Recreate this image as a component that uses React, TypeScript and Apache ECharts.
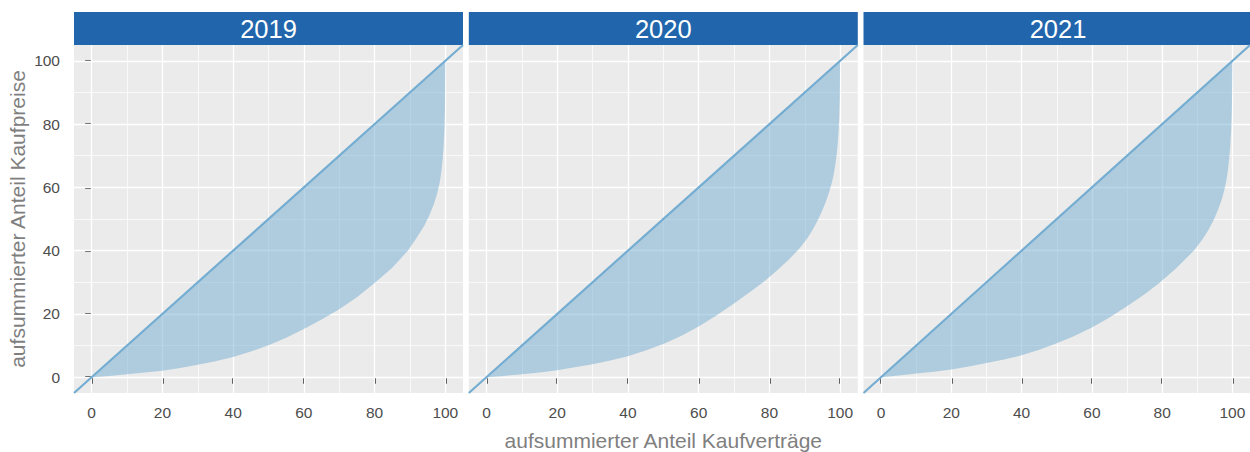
import React, { useEffect, useRef } from "react";
import * as echarts from "echarts";

// Facet titles
const years = ["2019", "2020", "2021"];

// Cumulative share of contracts (x, %) vs cumulative share of purchase prices (y, %)
const lorenz2019: [number, number][] = [
  [0, 0], [5, 0.4], [10, 0.95], [15, 1.45], [20, 2.05], [25, 2.9], [30, 3.9],
  [35, 5.0], [40, 6.4], [45, 8.1], [50, 10.1], [55, 12.5], [60, 15.2],
  [65, 18.2], [70, 21.5], [75, 25.3], [80, 29.8], [85, 34.6], [89.4, 40],
  [92, 44.2], [94, 47.8], [95.5, 51.2], [96.7, 54.5], [97.6, 57.7],
  [98.3, 60.9], [98.8, 64.3], [99.2, 68.3], [99.5, 72.8], [99.75, 78.3],
  [99.9, 85], [100, 100],
];
const lorenz2020: [number, number][] = [
  [0, 0], [5, 0.4], [10, 0.95], [15, 1.5], [20, 2.2], [25, 3.1], [30, 4.1],
  [35, 5.3], [40, 6.6], [45, 8.4], [50, 10.5], [55, 13.0], [60, 16.0],
  [65, 19.5], [70, 23.3], [75, 27.3], [78.4, 30.2], [82, 33.6], [85.5, 37.2],
  [88.3, 40.4], [90.5, 43.5], [92.2, 46.5], [93.5, 49.2], [94.8, 52.3],
  [95.9, 55.3], [96.8, 58.2], [97.5, 60.8], [98.1, 63.6], [98.6, 66.8],
  [99.0, 70.2], [99.3, 73.6], [99.55, 77.6], [99.75, 82], [99.9, 88], [100, 100],
];
const lorenz2021: [number, number][] = [
  [0, 0], [5, 0.5], [10, 1.15], [15, 1.75], [20, 2.45], [25, 3.4], [30, 4.5],
  [35, 5.6], [40, 6.9], [45, 8.7], [50, 10.7], [55, 13.0], [60, 15.7],
  [65, 18.9], [70, 22.4], [75, 26.2], [79, 29.6], [84, 34.4], [89, 40],
  [91.5, 43.6], [93.2, 46.6], [94.7, 49.8], [95.9, 52.9], [96.9, 56.0],
  [97.6, 58.8], [98.2, 61.8], [98.7, 65.3], [99.1, 69.3], [99.4, 73.3],
  [99.65, 78.3], [99.85, 85], [100, 100],
];
const lorenzByYear = [lorenz2019, lorenz2020, lorenz2021];

// Line of equal distribution (y = x), spanning the padded axis range
const equalityEnds = [-5, 105];

// Axis range and breaks
const axisRange = [-5, 105];
const majorBreaks = [0, 20, 40, 60, 80, 100];
const minorBreaks = [10, 30, 50, 70, 90];

const FONT = "'Liberation Sans', Arial, Helvetica, sans-serif";
const PANEL_LEFTS = [74, 468.8, 863.5];
const PANEL_W = 389;
const PANEL_TOP = 45;
const PANEL_H = 348;
const STRIP_TOP = 12;
const STRIP_H = 33;
const LINE_BLUE = "#74ADD1";

function gridLines() {
  const major = { color: "#FFFFFF", width: 1.3, type: "solid" as const };
  const minor = { color: "#FFFFFF", width: 0.7, type: "solid" as const };
  return [
    ...minorBreaks.map((v) => ({ xAxis: v, lineStyle: minor })),
    ...minorBreaks.map((v) => ({ yAxis: v, lineStyle: minor })),
    ...majorBreaks.map((v) => ({ xAxis: v, lineStyle: major })),
    ...majorBreaks.map((v) => ({ yAxis: v, lineStyle: major })),
  ];
}

export default function App() {
  const ref = useRef<HTMLDivElement>(null);

  useEffect(() => {
    if (!ref.current) return;
    const chart = echarts.init(ref.current, null, { renderer: "svg" });

    const grids = PANEL_LEFTS.map((left) => ({
      left,
      top: PANEL_TOP,
      width: PANEL_W,
      height: PANEL_H,
      show: true,
      backgroundColor: "#EBEBEB",
      borderWidth: 0,
      containLabel: false,
    }));

    const tickStyle = { color: "#333333", width: 1.8 };

    const xAxes = years.map((_, i) => ({
      type: "value",
      gridIndex: i,
      min: axisRange[0],
      max: axisRange[1],
      axisLine: { show: false },
      splitLine: { show: false },
      axisTick: {
        show: true,
        customValues: majorBreaks,
        length: 6.5,
        lineStyle: tickStyle,
      },
      axisLabel: {
        customValues: majorBreaks,
        color: "#4D4D4D",
        fontSize: 15.5,
        fontFamily: FONT,
        margin: 11,
      },
    }));

    const yAxes = years.map((_, i) => ({
      type: "value",
      gridIndex: i,
      min: axisRange[0],
      max: axisRange[1],
      axisLine: { show: false },
      splitLine: { show: false },
      axisTick: {
        show: i === 0,
        customValues: majorBreaks,
        length: 6.5,
        lineStyle: tickStyle,
      },
      axisLabel: {
        show: i === 0,
        customValues: majorBreaks,
        color: "#4D4D4D",
        fontSize: 15.5,
        fontFamily: FONT,
        margin: 14,
      },
    }));

    const series: any[] = [];
    lorenzByYear.forEach((pts, i) => {
      // shaded gap between the Lorenz curve and the line of equality
      series.push({
        type: "custom",
        xAxisIndex: i,
        yAxisIndex: i,
        z: 2,
        silent: true,
        data: pts,
        encode: { x: 0, y: 1 },
        renderItem: (params: any, api: any) => {
          if (params.dataIndex !== 0) return null;
          const lower = pts.map((p) => api.coord(p));
          const upper = [...pts].reverse().map((p) => api.coord([p[0], p[0]]));
          return {
            type: "polygon",
            shape: { points: lower.concat(upper) },
            style: { fill: "rgba(116,173,209,0.5)" },
          };
        },
      });
      // line of equality, with panel grid lines
      series.push({
        type: "line",
        xAxisIndex: i,
        yAxisIndex: i,
        z: 3,
        silent: true,
        symbol: "none",
        clip: true,
        data: equalityEnds.map((v) => [v, v]),
        lineStyle: { color: LINE_BLUE, width: 2.2 },
        markLine: {
          z: 1,
          silent: true,
          symbol: ["none", "none"],
          label: { show: false },
          emphasis: { disabled: true },
          animation: false,
          data: gridLines(),
        },
      });
    });

    const graphics: any[] = [];
    years.forEach((year, i) => {
      graphics.push({
        type: "rect",
        shape: { x: PANEL_LEFTS[i], y: STRIP_TOP, width: PANEL_W, height: STRIP_H },
        style: { fill: "#2166AC" },
        silent: true,
      });
      graphics.push({
        type: "text",
        x: PANEL_LEFTS[i] + PANEL_W / 2,
        y: STRIP_TOP + STRIP_H / 2 + 0.5,
        style: {
          text: year,
          fill: "#FFFFFF",
          fontSize: 25.5,
          fontFamily: FONT,
          align: "center",
          verticalAlign: "middle",
        },
        silent: true,
      });
    });
    graphics.push({
      type: "text",
      x: 17,
      y: PANEL_TOP + PANEL_H / 2,
      rotation: Math.PI / 2,
      style: {
        text: "aufsummierter Anteil Kaufpreise",
        fill: "#7F7F7F",
        fontSize: 21,
        fontFamily: FONT,
        align: "center",
        verticalAlign: "middle",
      },
      silent: true,
    });
    graphics.push({
      type: "text",
      x: PANEL_LEFTS[1] + PANEL_W / 2,
      y: 440,
      style: {
        text: "aufsummierter Anteil Kaufverträge",
        fill: "#7F7F7F",
        fontSize: 21,
        fontFamily: FONT,
        align: "center",
        verticalAlign: "middle",
      },
      silent: true,
    });

    chart.setOption({
      animation: false,
      backgroundColor: "#FFFFFF",
      textStyle: { fontFamily: FONT },
      grid: grids,
      xAxis: xAxes,
      yAxis: yAxes,
      series,
      graphic: graphics,
    });

    return () => chart.dispose();
  }, []);

  return (
    <div
      ref={ref}
      style={{ position: "absolute", left: 0, top: 0, width: 1250, height: 452 }}
    />
  );
}
